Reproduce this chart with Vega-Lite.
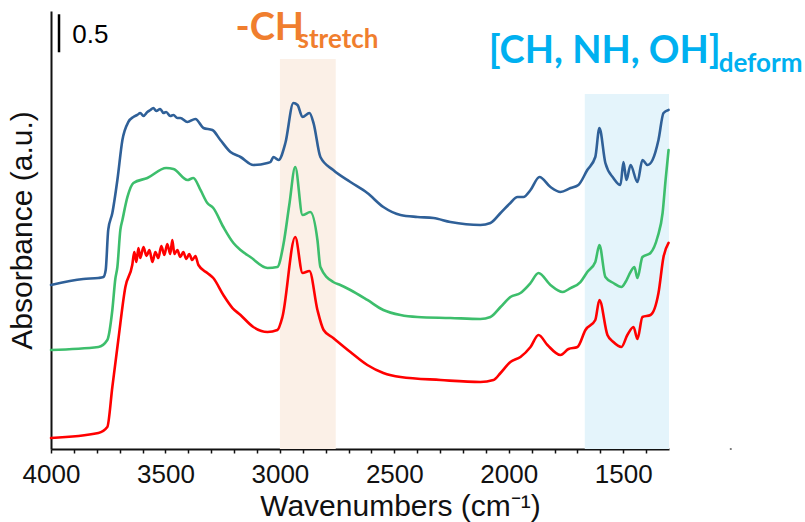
{
  "$schema": "https://vega.github.io/schema/vega-lite/v6.json",
  "width": 618,
  "height": 438,
  "autosize": {"type": "none"},
  "padding": {"left": 51, "top": 11, "right": 136, "bottom": 73},
  "background": "white",
  "config": {"view": {"stroke": null}, "axis": {"labelOverlap": false}},
  "datasets": {
    "bands": [
      {"from": 3000, "to": 2756, "base": 0, "top": 5.132, "band": "CH stretch"},
      {"from": 1668, "to": 1300, "base": 0, "top": 4.671, "band": "deform"}
    ],
    "spectra": [
      {"sample": "A", "wn": 4000, "abs": 2.158},
      {"sample": "A", "wn": 3859, "abs": 2.237},
      {"sample": "A", "wn": 3793, "abs": 2.25},
      {"sample": "A", "wn": 3771, "abs": 2.263},
      {"sample": "A", "wn": 3761, "abs": 2.355},
      {"sample": "A", "wn": 3750, "abs": 2.882},
      {"sample": "A", "wn": 3732, "abs": 3.105},
      {"sample": "A", "wn": 3710, "abs": 3.539},
      {"sample": "A", "wn": 3688, "abs": 4.066},
      {"sample": "A", "wn": 3662, "abs": 4.303},
      {"sample": "A", "wn": 3640, "abs": 4.368},
      {"sample": "A", "wn": 3623, "abs": 4.395},
      {"sample": "A", "wn": 3610, "abs": 4.421},
      {"sample": "A", "wn": 3596, "abs": 4.382},
      {"sample": "A", "wn": 3579, "abs": 4.434},
      {"sample": "A", "wn": 3566, "abs": 4.461},
      {"sample": "A", "wn": 3553, "abs": 4.487},
      {"sample": "A", "wn": 3540, "abs": 4.447},
      {"sample": "A", "wn": 3523, "abs": 4.474},
      {"sample": "A", "wn": 3509, "abs": 4.421},
      {"sample": "A", "wn": 3497, "abs": 4.434},
      {"sample": "A", "wn": 3479, "abs": 4.382},
      {"sample": "A", "wn": 3465, "abs": 4.395},
      {"sample": "A", "wn": 3448, "abs": 4.355},
      {"sample": "A", "wn": 3435, "abs": 4.355},
      {"sample": "A", "wn": 3404, "abs": 4.303},
      {"sample": "A", "wn": 3369, "abs": 4.342},
      {"sample": "A", "wn": 3334, "abs": 4.224},
      {"sample": "A", "wn": 3295, "abs": 4.197},
      {"sample": "A", "wn": 3260, "abs": 4.066},
      {"sample": "A", "wn": 3216, "abs": 3.908},
      {"sample": "A", "wn": 3172, "abs": 3.842},
      {"sample": "A", "wn": 3116, "abs": 3.737},
      {"sample": "A", "wn": 3054, "abs": 3.763},
      {"sample": "A", "wn": 3041, "abs": 3.776},
      {"sample": "A", "wn": 3028, "abs": 3.842},
      {"sample": "A", "wn": 3006, "abs": 3.803},
      {"sample": "A", "wn": 2976, "abs": 4.026},
      {"sample": "A", "wn": 2941, "abs": 4.553},
      {"sample": "A", "wn": 2923, "abs": 4.526},
      {"sample": "A", "wn": 2901, "abs": 4.368},
      {"sample": "A", "wn": 2871, "abs": 4.421},
      {"sample": "A", "wn": 2853, "abs": 4.289},
      {"sample": "A", "wn": 2823, "abs": 3.842},
      {"sample": "A", "wn": 2767, "abs": 3.671},
      {"sample": "A", "wn": 2692, "abs": 3.513},
      {"sample": "A", "wn": 2618, "abs": 3.368},
      {"sample": "A", "wn": 2548, "abs": 3.184},
      {"sample": "A", "wn": 2473, "abs": 3.079},
      {"sample": "A", "wn": 2399, "abs": 3.053},
      {"sample": "A", "wn": 2329, "abs": 3.039},
      {"sample": "A", "wn": 2255, "abs": 2.987},
      {"sample": "A", "wn": 2124, "abs": 2.947},
      {"sample": "A", "wn": 2080, "abs": 2.974},
      {"sample": "A", "wn": 2036, "abs": 3.105},
      {"sample": "A", "wn": 1993, "abs": 3.237},
      {"sample": "A", "wn": 1962, "abs": 3.316},
      {"sample": "A", "wn": 1936, "abs": 3.316},
      {"sample": "A", "wn": 1905, "abs": 3.408},
      {"sample": "A", "wn": 1866, "abs": 3.579},
      {"sample": "A", "wn": 1818, "abs": 3.447},
      {"sample": "A", "wn": 1774, "abs": 3.382},
      {"sample": "A", "wn": 1730, "abs": 3.434},
      {"sample": "A", "wn": 1696, "abs": 3.474},
      {"sample": "A", "wn": 1657, "abs": 3.671},
      {"sample": "A", "wn": 1622, "abs": 3.842},
      {"sample": "A", "wn": 1604, "abs": 4.224},
      {"sample": "A", "wn": 1578, "abs": 3.763},
      {"sample": "A", "wn": 1543, "abs": 3.566},
      {"sample": "A", "wn": 1512, "abs": 3.474},
      {"sample": "A", "wn": 1499, "abs": 3.776},
      {"sample": "A", "wn": 1486, "abs": 3.539},
      {"sample": "A", "wn": 1468, "abs": 3.737},
      {"sample": "A", "wn": 1438, "abs": 3.513},
      {"sample": "A", "wn": 1416, "abs": 3.803},
      {"sample": "A", "wn": 1394, "abs": 3.737},
      {"sample": "A", "wn": 1372, "abs": 3.803},
      {"sample": "A", "wn": 1346, "abs": 4.066},
      {"sample": "A", "wn": 1324, "abs": 4.421},
      {"sample": "A", "wn": 1302, "abs": 4.461},

      {"sample": "B", "wn": 4000, "abs": 1.303},
      {"sample": "B", "wn": 3793, "abs": 1.342},
      {"sample": "B", "wn": 3754, "abs": 1.434},
      {"sample": "B", "wn": 3732, "abs": 1.829},
      {"sample": "B", "wn": 3719, "abs": 2.237},
      {"sample": "B", "wn": 3710, "abs": 2.395},
      {"sample": "B", "wn": 3697, "abs": 2.882},
      {"sample": "B", "wn": 3688, "abs": 3.013},
      {"sample": "B", "wn": 3666, "abs": 3.316},
      {"sample": "B", "wn": 3640, "abs": 3.5},
      {"sample": "B", "wn": 3579, "abs": 3.566},
      {"sample": "B", "wn": 3497, "abs": 3.697},
      {"sample": "B", "wn": 3465, "abs": 3.684},
      {"sample": "B", "wn": 3404, "abs": 3.539},
      {"sample": "B", "wn": 3378, "abs": 3.566},
      {"sample": "B", "wn": 3347, "abs": 3.408},
      {"sample": "B", "wn": 3317, "abs": 3.237},
      {"sample": "B", "wn": 3291, "abs": 3.171},
      {"sample": "B", "wn": 3247, "abs": 2.921},
      {"sample": "B", "wn": 3203, "abs": 2.711},
      {"sample": "B", "wn": 3172, "abs": 2.618},
      {"sample": "B", "wn": 3129, "abs": 2.526},
      {"sample": "B", "wn": 3054, "abs": 2.382},
      {"sample": "B", "wn": 3011, "abs": 2.395},
      {"sample": "B", "wn": 2985, "abs": 2.684},
      {"sample": "B", "wn": 2959, "abs": 3.21},
      {"sample": "B", "wn": 2933, "abs": 3.711},
      {"sample": "B", "wn": 2901, "abs": 3.079},
      {"sample": "B", "wn": 2867, "abs": 3.118},
      {"sample": "B", "wn": 2836, "abs": 2.75},
      {"sample": "B", "wn": 2823, "abs": 2.395},
      {"sample": "B", "wn": 2767, "abs": 2.197},
      {"sample": "B", "wn": 2736, "abs": 2.158},
      {"sample": "B", "wn": 2692, "abs": 2.092},
      {"sample": "B", "wn": 2618, "abs": 1.961},
      {"sample": "B", "wn": 2548, "abs": 1.829},
      {"sample": "B", "wn": 2473, "abs": 1.763},
      {"sample": "B", "wn": 2399, "abs": 1.737},
      {"sample": "B", "wn": 2255, "abs": 1.724},
      {"sample": "B", "wn": 2124, "abs": 1.711},
      {"sample": "B", "wn": 2080, "abs": 1.737},
      {"sample": "B", "wn": 2036, "abs": 1.868},
      {"sample": "B", "wn": 1993, "abs": 2.0},
      {"sample": "B", "wn": 1949, "abs": 2.053},
      {"sample": "B", "wn": 1905, "abs": 2.184},
      {"sample": "B", "wn": 1870, "abs": 2.316},
      {"sample": "B", "wn": 1818, "abs": 2.158},
      {"sample": "B", "wn": 1765, "abs": 2.066},
      {"sample": "B", "wn": 1730, "abs": 2.118},
      {"sample": "B", "wn": 1687, "abs": 2.197},
      {"sample": "B", "wn": 1657, "abs": 2.329},
      {"sample": "B", "wn": 1622, "abs": 2.461},
      {"sample": "B", "wn": 1604, "abs": 2.684},
      {"sample": "B", "wn": 1578, "abs": 2.263},
      {"sample": "B", "wn": 1543, "abs": 2.184},
      {"sample": "B", "wn": 1508, "abs": 2.132},
      {"sample": "B", "wn": 1490, "abs": 2.197},
      {"sample": "B", "wn": 1468, "abs": 2.329},
      {"sample": "B", "wn": 1451, "abs": 2.395},
      {"sample": "B", "wn": 1438, "abs": 2.25},
      {"sample": "B", "wn": 1416, "abs": 2.526},
      {"sample": "B", "wn": 1381, "abs": 2.579},
      {"sample": "B", "wn": 1350, "abs": 2.789},
      {"sample": "B", "wn": 1328, "abs": 3.105},
      {"sample": "B", "wn": 1315, "abs": 3.539},
      {"sample": "B", "wn": 1302, "abs": 3.934},

      {"sample": "C", "wn": 4000, "abs": 0.145},
      {"sample": "C", "wn": 3793, "abs": 0.211},
      {"sample": "C", "wn": 3754, "abs": 0.289},
      {"sample": "C", "wn": 3732, "abs": 0.816},
      {"sample": "C", "wn": 3706, "abs": 1.434},
      {"sample": "C", "wn": 3675, "abs": 2.132},
      {"sample": "C", "wn": 3645, "abs": 2.421},
      {"sample": "C", "wn": 3636, "abs": 2.592},
      {"sample": "C", "wn": 3627, "abs": 2.461},
      {"sample": "C", "wn": 3618, "abs": 2.645},
      {"sample": "C", "wn": 3610, "abs": 2.513},
      {"sample": "C", "wn": 3596, "abs": 2.658},
      {"sample": "C", "wn": 3583, "abs": 2.539},
      {"sample": "C", "wn": 3570, "abs": 2.618},
      {"sample": "C", "wn": 3557, "abs": 2.461},
      {"sample": "C", "wn": 3544, "abs": 2.592},
      {"sample": "C", "wn": 3531, "abs": 2.513},
      {"sample": "C", "wn": 3518, "abs": 2.671},
      {"sample": "C", "wn": 3505, "abs": 2.553},
      {"sample": "C", "wn": 3492, "abs": 2.697},
      {"sample": "C", "wn": 3479, "abs": 2.566},
      {"sample": "C", "wn": 3470, "abs": 2.75},
      {"sample": "C", "wn": 3461, "abs": 2.566},
      {"sample": "C", "wn": 3448, "abs": 2.618},
      {"sample": "C", "wn": 3435, "abs": 2.526},
      {"sample": "C", "wn": 3422, "abs": 2.592},
      {"sample": "C", "wn": 3409, "abs": 2.5},
      {"sample": "C", "wn": 3396, "abs": 2.566},
      {"sample": "C", "wn": 3383, "abs": 2.487},
      {"sample": "C", "wn": 3369, "abs": 2.539},
      {"sample": "C", "wn": 3356, "abs": 2.421},
      {"sample": "C", "wn": 3317, "abs": 2.316},
      {"sample": "C", "wn": 3291, "abs": 2.25},
      {"sample": "C", "wn": 3247, "abs": 2.026},
      {"sample": "C", "wn": 3207, "abs": 1.855},
      {"sample": "C", "wn": 3172, "abs": 1.763},
      {"sample": "C", "wn": 3116, "abs": 1.605},
      {"sample": "C", "wn": 3054, "abs": 1.539},
      {"sample": "C", "wn": 3011, "abs": 1.566},
      {"sample": "C", "wn": 2989, "abs": 1.737},
      {"sample": "C", "wn": 2933, "abs": 2.789},
      {"sample": "C", "wn": 2901, "abs": 2.316},
      {"sample": "C", "wn": 2871, "abs": 2.342},
      {"sample": "C", "wn": 2836, "abs": 1.829},
      {"sample": "C", "wn": 2809, "abs": 1.566},
      {"sample": "C", "wn": 2767, "abs": 1.461},
      {"sample": "C", "wn": 2692, "abs": 1.276},
      {"sample": "C", "wn": 2618, "abs": 1.105},
      {"sample": "C", "wn": 2548, "abs": 1.0},
      {"sample": "C", "wn": 2473, "abs": 0.947},
      {"sample": "C", "wn": 2298, "abs": 0.908},
      {"sample": "C", "wn": 2124, "abs": 0.882},
      {"sample": "C", "wn": 2067, "abs": 0.908},
      {"sample": "C", "wn": 2036, "abs": 1.0},
      {"sample": "C", "wn": 1993, "abs": 1.145},
      {"sample": "C", "wn": 1949, "abs": 1.211},
      {"sample": "C", "wn": 1905, "abs": 1.342},
      {"sample": "C", "wn": 1870, "abs": 1.5},
      {"sample": "C", "wn": 1831, "abs": 1.368},
      {"sample": "C", "wn": 1774, "abs": 1.237},
      {"sample": "C", "wn": 1739, "abs": 1.316},
      {"sample": "C", "wn": 1700, "abs": 1.342},
      {"sample": "C", "wn": 1665, "abs": 1.566},
      {"sample": "C", "wn": 1622, "abs": 1.697},
      {"sample": "C", "wn": 1604, "abs": 1.961},
      {"sample": "C", "wn": 1569, "abs": 1.5},
      {"sample": "C", "wn": 1543, "abs": 1.408},
      {"sample": "C", "wn": 1508, "abs": 1.342},
      {"sample": "C", "wn": 1482, "abs": 1.5},
      {"sample": "C", "wn": 1455, "abs": 1.605},
      {"sample": "C", "wn": 1438, "abs": 1.447},
      {"sample": "C", "wn": 1416, "abs": 1.737},
      {"sample": "C", "wn": 1381, "abs": 1.763},
      {"sample": "C", "wn": 1346, "abs": 2.053},
      {"sample": "C", "wn": 1324, "abs": 2.526},
      {"sample": "C", "wn": 1302, "abs": 2.711}
    ],
    "bigLabels": [
      {"wn": 3194, "abs": 5.382, "text": "-CH", "group": "orange"},
      {"wn": 2088, "abs": 5.079, "text": "[CH, NH, OH]", "group": "blue"}
    ],
    "smallLabels": [
      {"wn": 2923, "abs": 5.276, "text": "stretch", "group": "orange"},
      {"wn": 1083, "abs": 4.961, "text": "deform", "group": "blue"}
    ],
    "scalebar": [{"wn": 3965, "lo": 5.22, "hi": 5.72, "text": "0.5", "twn": 3907, "tabs": 5.34}],
    "dot": [{"wn": 1030, "abs": 0}]
  },
  "layer": [
    {
      "data": {"name": "bands"},
      "mark": {"type": "rect"},
      "encoding": {
        "x": {"field": "from", "type": "quantitative", "scale": {"domain": [4000, 1300], "nice": false, "zero": false}},
        "x2": {"field": "to"},
        "y": {"field": "base", "type": "quantitative", "scale": {"domain": [0, 5.763], "nice": false, "zero": false}},
        "y2": {"field": "top"},
        "color": {"field": "band", "type": "nominal", "scale": {"domain": ["CH stretch", "deform"], "range": ["#FBF0E7", "#E4F4FB"]}, "legend": null}
      }
    },
    {
      "data": {"name": "spectra"},
      "mark": {"type": "line", "strokeWidth": 2.6, "strokeJoin": "round", "strokeCap": "round", "interpolate": "monotone"},
      "encoding": {
        "x": {
          "field": "wn", "type": "quantitative",
          "scale": {"domain": [4000, 1300], "nice": false, "zero": false},
          "axis": {
            "title": "Wavenumbers (cm⁻¹)",
            "values": [4000, 3900, 3800, 3700, 3600, 3500, 3400, 3300, 3200, 3100, 3000, 2900, 2800, 2700, 2600, 2500, 2400, 2300, 2200, 2100, 2000, 1900, 1800, 1700, 1600, 1500, 1400],
            "tickCount": 60,
            "labelExpr": "datum.value % 500 === 0 ? format(datum.value, 'd') : ''",
            "labelPadding": 8,
            "grid": false,
            "domainColor": "#111111", "domainWidth": 2,
            "tickColor": "#111111", "tickSize": 4, "tickWidth": 1.5,
            "labelFont": "Liberation Sans", "labelFontSize": 26, "labelColor": "#111111", "labelFlush": false, "labelOverlap": false,
            "titleFont": "Liberation Sans", "titleFontSize": 30, "titleFontWeight": "normal", "titleColor": "#111111", "titlePadding": 4,
            "titleX": 349, "titleAlign": "center"
          }
        },
        "y": {
          "field": "abs", "type": "quantitative",
          "scale": {"domain": [0, 5.763], "nice": false, "zero": false},
          "axis": {
            "title": "Absorbance (a.u.)", "labels": false, "ticks": false, "grid": false,
            "domainColor": "#111111", "domainWidth": 2,
            "titleFont": "Liberation Sans", "titleFontSize": 30, "titleFontWeight": "normal", "titleColor": "#111111", "titlePadding": 14
          }
        },
        "color": {"field": "sample", "type": "nominal", "scale": {"domain": ["A", "B", "C"], "range": ["#2F6098", "#3DBE6C", "#FF0000"]}, "legend": null}
      }
    },
    {
      "data": {"name": "scalebar"},
      "mark": {"type": "rule", "strokeWidth": 2.5, "color": "#000000"},
      "encoding": {
        "x": {"field": "wn", "type": "quantitative"},
        "y": {"field": "lo", "type": "quantitative"},
        "y2": {"field": "hi"}
      }
    },
    {
      "data": {"name": "scalebar"},
      "mark": {"type": "text", "align": "left", "baseline": "alphabetic", "font": "Liberation Sans", "fontSize": 26, "color": "#000000"},
      "encoding": {
        "x": {"field": "twn", "type": "quantitative"},
        "y": {"field": "tabs", "type": "quantitative"},
        "text": {"field": "text", "type": "nominal"}
      }
    },
    {
      "data": {"name": "bigLabels"},
      "mark": {"type": "text", "align": "left", "baseline": "alphabetic", "font": "Lato", "fontWeight": "bold", "fontSize": 38},
      "encoding": {
        "x": {"field": "wn", "type": "quantitative"},
        "y": {"field": "abs", "type": "quantitative"},
        "text": {"field": "text", "type": "nominal"},
        "color": {"field": "group", "type": "nominal", "scale": {"domain": ["orange", "blue"], "range": ["#F07E2E", "#00B0F0"]}, "legend": null}
      }
    },
    {
      "data": {"name": "smallLabels"},
      "mark": {"type": "text", "align": "left", "baseline": "alphabetic", "font": "Lato", "fontWeight": "bold", "fontSize": 26},
      "encoding": {
        "x": {"field": "wn", "type": "quantitative"},
        "y": {"field": "abs", "type": "quantitative"},
        "text": {"field": "text", "type": "nominal"},
        "color": {"field": "group", "type": "nominal", "scale": {"domain": ["orange", "blue"], "range": ["#F07E2E", "#00B0F0"]}, "legend": null}
      }
    },
    {
      "data": {"name": "dot"},
      "mark": {"type": "point", "filled": true, "size": 5, "color": "#333333", "clip": false},
      "encoding": {
        "x": {"field": "wn", "type": "quantitative"},
        "y": {"field": "abs", "type": "quantitative"}
      }
    }
  ],
  "resolve": {"scale": {"color": "independent"}}
}
